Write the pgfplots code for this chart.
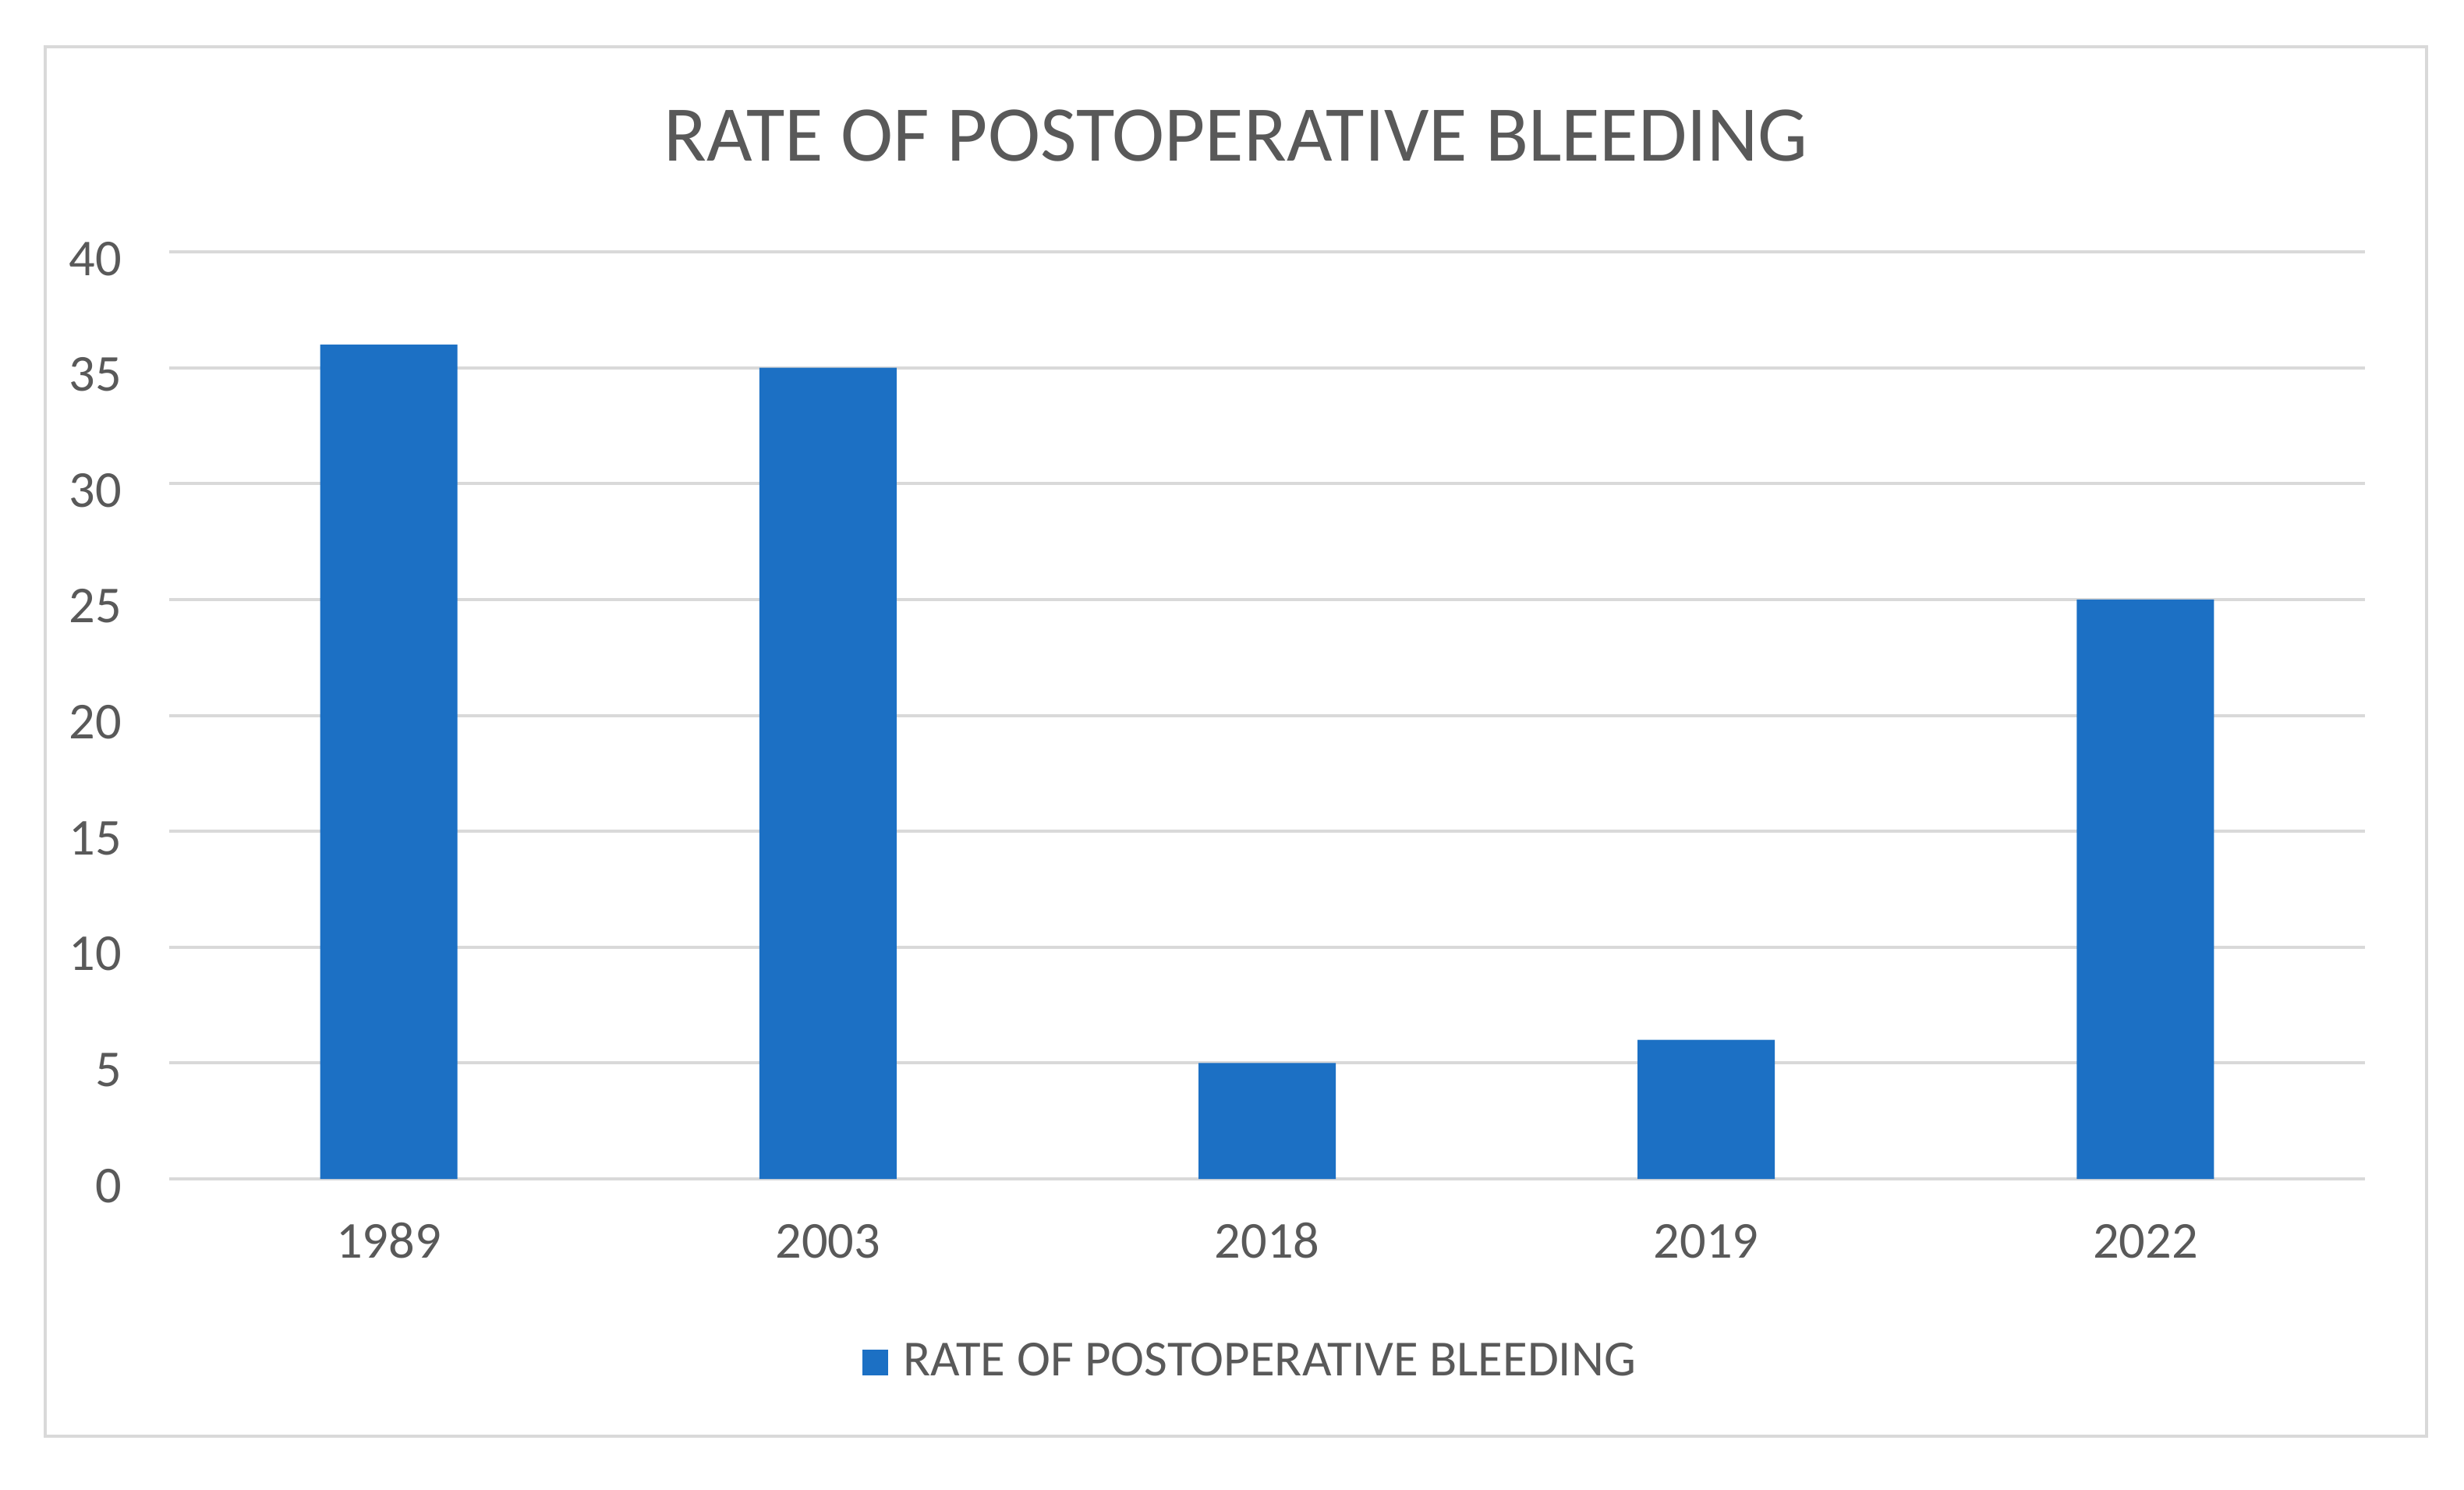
\documentclass[border=0pt]{standalone}
\usepackage{fontspec}
\setmainfont{Carlito}
\usepackage{pgfplots}
\pgfplotsset{compat=1.18}

\definecolor{barblue}{RGB}{28,112,196}
\definecolor{txtgray}{HTML}{595959}
\definecolor{linegray}{HTML}{D9D9D9}

\begin{document}
\begin{tikzpicture}
% page is 3160x1910 px at 0.25pt per px
\path[use as bounding box] (0,0) rectangle (790pt,477.5pt);
\draw[linegray, line width=1.1pt] (14.5pt,17pt) rectangle (778pt,462.5pt);
\node[anchor=base, inner sep=0pt, text=txtgray, font=\fontsize{25.3}{30}\selectfont]
  at (396.25pt,425.75pt) {RATE OF POSTOPERATIVE BLEEDING};

\begin{axis}[
    at={(54.25pt,99.5pt)}, anchor=south west,
    scale only axis,
    width=704pt, height=297.25pt,
    xmin=-0.5, xmax=4.5,
    ymin=0, ymax=40,
    enlargelimits=false,
    ytick={0,5,...,40},
    xtick=data,
    xticklabels={1989,2003,2018,2019,2022},
    axis line style={draw=none},
    ymajorgrids=true,
    grid style={linegray, line width=1pt},
    major tick length=0pt,
    tick label style={text=txtgray, font=\fontsize{16.6}{20}\selectfont, inner sep=0pt},
    yticklabel style={anchor=base east, xshift=-15pt, yshift=-7.5pt},
    xticklabel style={anchor=base, yshift=-25.25pt},
    /pgf/number format/assume math mode=true,
    ybar,
    bar width=44pt,
    legend style={
        at={(0.3153,-0.1934)}, anchor=west,
        draw=none, fill=none, inner sep=0pt,
        nodes={inner sep=0pt},
        column sep=5pt,
        text=txtgray,
        font=\fontsize{16.2}{20}\selectfont,
    },
]
\addplot[fill=barblue, draw=none,
    legend image code/.code={%
        \path[fill=none, draw=none] (0pt,0pt) rectangle (8.25pt,8.25pt);
        \fill[barblue, overlay] (0pt,-4.5pt) rectangle (8.25pt,3.75pt);}]
    coordinates {(0,36) (1,35) (2,5) (3,6) (4,25)};
\addlegendentry{RATE OF POSTOPERATIVE BLEEDING}
\end{axis}
\end{tikzpicture}
\end{document}
